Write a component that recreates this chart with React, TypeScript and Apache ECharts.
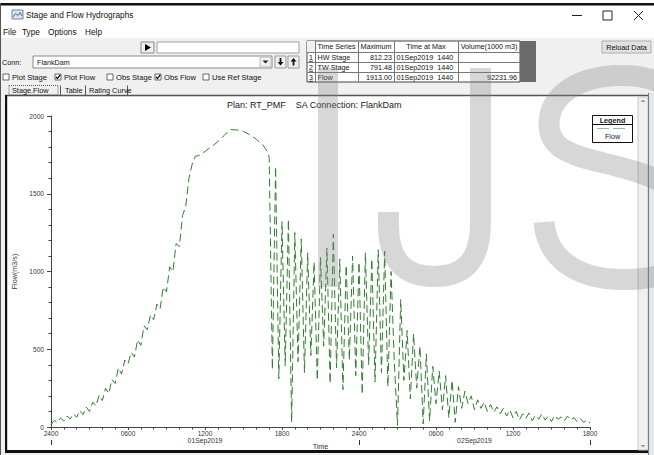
import React, { useEffect, useRef } from 'react';
import * as echarts from 'echarts';

// Flow hydrograph at the FlankDam SA connection, one value every 15 minutes
// starting at 2400 on 31Aug2019 (hour 0) through 1800 on 02Sep2019 (hour 42).
const STEP_HOURS = 0.25;
const flowValues: number[] = [
  15, 42, 30, 58, 38, 70, 52, 85, 62, 105,
  80, 128, 100, 160, 135, 205, 170, 250, 215, 305,
  280, 380, 340, 430, 405, 480, 450, 560, 525, 650,
  625, 720, 690, 790, 760, 900, 870, 1030, 1000, 1180,
  1160, 1360, 1420, 1600, 1690, 1742, 1745, 1758, 1772, 1788,
  1802, 1818, 1835, 1855, 1875, 1896, 1913, 1911, 1910, 1906,
  1900, 1890, 1878, 1865, 1850, 1832, 1815, 1785, 1738, 370,
  1675, 310, 1320, 395, 1335, 30, 1250, 420, 1210, 350,
  1120, 460, 1060, 300, 1090, 520, 1150, 280, 1240, 380,
  1080, 240, 1040, 430, 1100, 330, 1060, 210, 1120, 400,
  1080, 290, 1140, 350, 1130, 260, 1000, 420, 10, 820,
  300, 620, 180, 600, 250, 520, 20, 470, 40, 390,
  150, 360, 110, 330, 60, 300, 30, 260, 120, 230,
  150, 200, 110, 175, 120, 160, 100, 145, 95, 130,
  85, 120, 70, 110, 60, 100, 45, 85, 55, 90,
  40, 75, 50, 85, 45, 70, 35, 75, 50, 65,
  40, 70, 45, 60, 35, 55, 30, 45, 25,
];

const timeTickLabels = ['2400', '0600', '1200', '1800', '2400', '0600', '1200', '1800'];
const dayLabels = ['01Sep2019', '02Sep2019'];
const dayLabelHours = [12, 33];

const menuItems = ['File', 'Type', 'Options', 'Help'];
const menuX = [3, 22, 48, 85];

const checkItems = [
  { label: 'Plot Stage', checked: false, x: 3 },
  { label: 'Plot Flow', checked: true, x: 55 },
  { label: 'Obs Stage', checked: false, x: 107 },
  { label: 'Obs Flow', checked: true, x: 155 },
  { label: 'Use Ref Stage', checked: false, x: 203 },
];

const tableHeaders = ['Time Series', 'Maximum', 'Time at Max', 'Volume(1000 m3)'];
const tableRows = [
  ['HW Stage', '812.23', '01Sep2019  1440', ''],
  ['TW Stage', '791.48', '01Sep2019  1440', ''],
  ['Flow', '1913.00', '01Sep2019  1440', '92231.96'],
];

const FONT = '"Liberation Sans", Arial, sans-serif';

// Stroke outlines of the large "J" and "S" lettering laid over the window.
echarts.graphic.registerShape(
  'letterJ',
  echarts.graphic.extendPath(
    'M480.5 68 L480.5 222 C480.5 262 463 276.5 434 276.5 C404 276.5 388.5 260 388.5 225 L388.5 212',
    {}
  )
);
echarts.graphic.registerShape(
  'letterS',
  echarts.graphic.extendPath(
    'M690 122 C686 90 658 75.5 621 75.5 C578 75.5 549 96 549 124 C549 146 566 154 600 162 ' +
      'C640 172 700 186 700 232 C700 264 668 279.5 624 279.5 C576 279.5 547 258 544 222',
    {}
  )
);

type TOpts = { size?: number; fill?: string; align?: string; weight?: string; z?: number; family?: string };
function T(x: number, y: number, text: string, o: TOpts = {}) {
  const align = o.align ?? 'left';
  return {
    type: 'text', x, y, z: o.z ?? 5, silent: true,
    style: {
      text, fill: o.fill ?? '#111', fontSize: o.size ?? 7.3, fontFamily: o.family ?? FONT,
      fontWeight: o.weight ?? 'normal',
      textAlign: align, align,
      textVerticalAlign: 'middle', verticalAlign: 'middle',
    },
  };
}
function R(x: number, y: number, w: number, h: number, fill: string, stroke?: string, lw = 1, z = -10, dash?: number[]) {
  return {
    type: 'rect', z, silent: true,
    shape: { x, y, width: w, height: h },
    style: { fill, stroke: stroke ?? 'none', lineWidth: lw, lineDash: dash },
  };
}
function L(x1: number, y1: number, x2: number, y2: number, stroke: string, lw = 1, z = 4, dash?: number[]) {
  return { type: 'line', z, silent: true, shape: { x1, y1, x2, y2 }, style: { stroke, lineWidth: lw, lineDash: dash } };
}
function PG(points: number[][], fill: string, z = 4) {
  return { type: 'polygon', z, silent: true, shape: { points }, style: { fill } };
}
function PL(points: number[][], stroke: string, lw = 1, z = 4) {
  return { type: 'polyline', z, silent: true, shape: { points }, style: { stroke, lineWidth: lw, fill: 'none' } };
}

function windowChrome() {
  const els: any[] = [];
  // title bar and menu
  els.push(R(0, 0, 654, 38, '#ffffff', undefined, 1, -20));
  els.push(R(0, 3, 654, 2.5, '#111111', undefined, 1, -19));
  els.push(L(0.5, 3, 0.5, 455, '#555555', 1, -5));
  els.push(R(12, 10, 11, 9, '#dbe4ee', '#6d86a8', 1, 2));
  els.push(PL([[13, 17], [15.5, 13.5], [18, 15.5], [20, 12.5], [22, 16]], '#4a6a96', 1, 3));
  els.push(T(26, 15, 'Stage and Flow Hydrographs', { size: 8.3 }));
  els.push(L(572, 15.5, 582, 15.5, '#222'));
  els.push(R(603, 11, 9, 9, 'none', '#222', 1, 4));
  els.push(L(634, 11, 643, 20, '#222'));
  els.push(L(643, 11, 634, 20, '#222'));
  menuItems.forEach((m, i) => els.push(T(menuX[i], 32, m, { size: 8.3 })));

  // run button and progress field
  els.push(R(141, 42, 13, 11, '#f0f0f0', '#8a8a8a', 1, 2));
  els.push(PG([[145, 44], [145, 51], [151, 47.5]], '#000'));
  els.push(R(157, 42, 142, 11, '#ffffff', '#a0a0a0', 1, 2));

  // connection selector
  els.push(T(2, 62, 'Conn:', { size: 7.2 }));
  els.push(R(33, 56, 239, 12, '#ffffff', '#8a8a8a', 1, 2));
  els.push(T(37, 62, 'FlankDam', { size: 7.2 }));
  els.push(R(260, 57, 11, 10, '#f0f0f0', '#bbbbbb', 1, 3));
  els.push(PG([[262.5, 60.5], [268.5, 60.5], [265.5, 63.5]], '#222'));
  els.push(R(275, 56, 11, 12, '#f0f0f0', '#999999', 1, 2));
  els.push(R(279.6, 58, 1.8, 4.5, '#111', undefined, 1, 4));
  els.push(PG([[277.5, 62], [283.5, 62], [280.5, 65.5]], '#111'));
  els.push(R(288, 56, 11, 12, '#f0f0f0', '#999999', 1, 2));
  els.push(PG([[290.5, 61.5], [296.5, 61.5], [293.5, 58]], '#111'));
  els.push(R(292.6, 61, 1.8, 4.5, '#111', undefined, 1, 4));

  // check boxes
  checkItems.forEach((c) => {
    els.push(R(c.x, 74, 6, 6, '#ffffff', '#666666', 1, 2));
    if (c.checked) els.push(PL([[c.x + 1, 76.8], [c.x + 2.5, 78.6], [c.x + 5.2, 74.8]], '#000', 1.2));
    els.push(T(c.x + 9, 77.3, c.label, { size: 7.6 }));
  });

  // tabs
  els.push(R(9, 85.5, 49, 9.5, 'none', '#333', 0.8, 3, [1, 1]));
  els.push(T(12, 90.3, 'Stage.Flow', { size: 7.3 }));
  els.push(L(60.5, 85.5, 60.5, 95, '#555'));
  els.push(T(65, 90.3, 'Table', { size: 7.3 }));
  els.push(L(85.5, 85.5, 85.5, 95, '#555'));
  els.push(T(89, 90.3, 'Rating Curve', { size: 7.3 }));
  els.push(L(127.5, 85.5, 127.5, 95, '#555'));

  // summary table
  const cols = [307, 315, 358, 394, 458, 520];
  const rows = [41, 52, 62, 72, 82];
  els.push(R(cols[0], rows[0], cols[5] - cols[0], rows[4] - rows[0], '#ffffff', '#444444', 1, 1));
  els.push(R(cols[0], rows[0], cols[1] - cols[0], rows[1] - rows[0], '#f0f0f0', undefined, 1, 1));
  els.push(R(520, 41, 16, 41, '#6b6b6b', undefined, 1, 1));
  cols.slice(1, 5).forEach((c) => els.push(L(c + 0.5, rows[0], c + 0.5, rows[4], '#777', 1, 2)));
  rows.slice(1, 4).forEach((r) => els.push(L(cols[0], r + 0.5, cols[5], r + 0.5, '#777', 1, 2)));
  tableHeaders.forEach((h, i) => {
    els.push(T((cols[i + 1] + cols[i + 2]) / 2, 46.8, h, { size: 7.2, align: 'center' }));
  });
  tableRows.forEach((row, r) => {
    const cy = (rows[r + 1] + rows[r + 2]) / 2 + 0.3;
    els.push(T(311, cy, String(r + 1), { size: 7, align: 'center' }));
    els.push(L(309, cy + 4, 313, cy + 4, '#222', 0.8));
    els.push(T(317.5, cy, row[0], { size: 7.2 }));
    els.push(T(392, cy, row[1], { size: 7.2, align: 'right' }));
    els.push(T(396.5, cy, row[2], { size: 7.2 }));
    if (row[3]) els.push(T(517, cy, row[3], { size: 7.2, align: 'right' }));
  });

  // reload button
  els.push(R(602, 41, 49, 12, '#e1e1e1', '#adadad', 1, 2));
  els.push(T(626.5, 47, 'Reload Data', { size: 7.3, align: 'center' }));

  // plot panel with its frame and scroll bar
  els.push(R(5, 95, 645, 358, '#ffffff', undefined, 1, -15));
  els.push(L(5, 95.5, 648, 95.5, '#555555', 1.5, -4));
  els.push(R(5, 95, 2.2, 358, '#111111', undefined, 1, -4));
  els.push(R(5, 450, 645, 3, '#111111', undefined, 1, -4));
  els.push(R(638, 97, 10, 353, '#f0f0f0', '#c8c8c8', 1, -4));
  els.push(PG([[640.5, 102], [645.5, 102], [643, 99.5]], '#999'));
  els.push(PG([[640.5, 445], [645.5, 445], [643, 447.5]], '#999'));
  els.push(R(648, 93, 6, 362, '#dfe7ef', undefined, 1, -4));
  els.push(L(648.5, 93, 648.5, 455, '#777777', 1, -3));

  // legend box
  els.push(R(592.5, 115.5, 40, 27, '#ffffff', '#111111', 1, 10));
  els.push(L(592.5, 124.5, 632.5, 124.5, '#111', 1, 11));
  els.push(T(612.5, 120, 'Legend', { size: 7.2, weight: 'bold', align: 'center', z: 11 }));
  els.push(L(597, 128.5, 628, 128.5, '#8fc28f', 1.2, 11, [12, 4]));
  els.push(T(612.5, 136.3, 'Flow', { size: 7.2, align: 'center', z: 11, fill: '#222' }));

  // large overlay lettering
  const wm = 'rgba(135,135,135,0.33)';
  els.push(R(318, 68, 20, 219, wm, undefined, 1, 50));
  els.push({ type: 'letterJ', x: 0, y: 0, z: 50, silent: true, style: { fill: 'none', stroke: wm, lineWidth: 21 } });
  els.push({ type: 'letterS', x: 0, y: 0, z: 50, silent: true, style: { fill: 'none', stroke: wm, lineWidth: 21 } });
  return els;
}

function buildOption(): any {
  const axisColor = '#444444';
  const labelColor = '#333333';
  return {
    animation: false,
    backgroundColor: '#f0f0f0',
    title: {
      text: 'Plan: RT_PMF    SA Connection: FlankDam',
      left: 227,
      top: 100,
      padding: 0,
      textStyle: { fontSize: 9, fontWeight: 'normal', color: '#222', fontFamily: FONT },
    },
    grid: { left: 51, top: 116, width: 539, height: 312, containLabel: false },
    xAxis: [
      {
        type: 'value', min: 0, max: 42, interval: 6,
        name: 'Time', nameLocation: 'middle', nameGap: 16,
        nameTextStyle: { fontSize: 7.2, color: labelColor, fontFamily: FONT },
        axisLine: { show: true, lineStyle: { color: axisColor, width: 1 } },
        axisTick: { show: true, length: 3, lineStyle: { color: axisColor } },
        minorTick: { show: true, splitNumber: 6, length: 2.5, lineStyle: { color: axisColor } },
        splitLine: { show: false },
        axisLabel: {
          fontSize: 6.6, color: labelColor, fontFamily: FONT, margin: 3,
          formatter: (v: number) => timeTickLabels[Math.round(v / 6)] ?? '',
        },
      },
      {
        // date row under the hour labels
        type: 'value', min: 0, max: 42, interval: 3, position: 'bottom',
        axisLine: { show: false }, axisTick: { show: false }, splitLine: { show: false },
        axisLabel: {
          fontSize: 6.8, color: labelColor, fontFamily: FONT, margin: 10,
          formatter: (v: number) => {
            const d = dayLabelHours.indexOf(v);
            return d >= 0 ? dayLabels[d] : '';
          },
        },
      },
      {
        // day-boundary marks at each 2400
        type: 'value', min: 0, max: 42, interval: 24, position: 'bottom', offset: 13,
        axisLine: { show: false }, splitLine: { show: false }, axisLabel: { show: false },
        axisTick: { show: true, length: 5, lineStyle: { color: '#333', width: 1 } },
      },
    ],
    yAxis: {
      type: 'value', min: 0, max: 2000, interval: 500,
      name: 'Flow(m3/s)', nameLocation: 'middle', nameGap: 28, nameRotate: 90,
      nameTextStyle: { fontSize: 7.2, color: labelColor, fontFamily: FONT },
      axisLine: { show: true, lineStyle: { color: axisColor, width: 1 } },
      axisTick: { show: true, length: 4, lineStyle: { color: axisColor } },
      minorTick: { show: true, splitNumber: 5, length: 2.5, lineStyle: { color: axisColor } },
      splitLine: { show: false },
      axisLabel: {
        fontSize: 6.6, color: labelColor, fontFamily: FONT, margin: 7,
        formatter: (v: number) => String(v),
      },
    },
    series: [
      {
        name: 'Flow',
        type: 'line',
        xAxisIndex: 0,
        showSymbol: false,
        symbol: 'none',
        data: flowValues.map((v, i) => [i * STEP_HOURS, v]),
        lineStyle: { color: '#2f7f2f', width: 1, type: [8, 4] },
        z: 3,
      },
    ],
    graphic: { elements: windowChrome() },
  };
}

export default function App() {
  const ref = useRef<HTMLDivElement>(null);
  useEffect(() => {
    if (!ref.current) return;
    const chart = echarts.init(ref.current, null, { renderer: 'svg' });
    chart.setOption(buildOption());
    return () => chart.dispose();
  }, []);
  return <div ref={ref} style={{ position: 'fixed', left: 0, top: 0, width: 654, height: 455 }} />;
}
